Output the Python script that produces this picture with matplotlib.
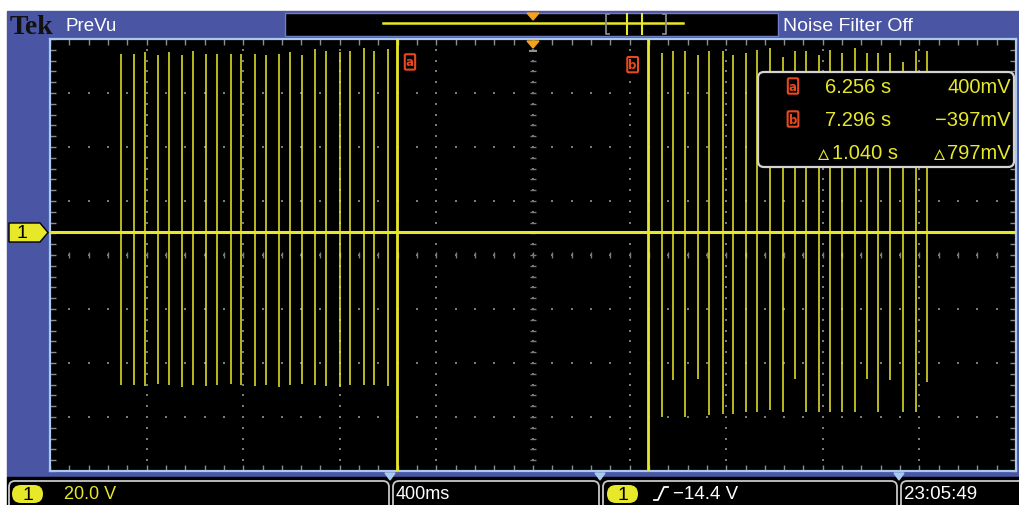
import numpy as np
import matplotlib.pyplot as plt
from matplotlib.patches import Rectangle, FancyBboxPatch, Polygon

# Scope settings
t_start = 4.819          # time at left edge of graticule (s)
sec_per_div = 0.4
volts_per_div = 20.0
ground_div = 0.43        # channel 1 ground marker above screen centre (div)

# Cursor readout
cursor_times = [6.256, 7.296]     # s
cursor_mv = [400, -397]           # mV

# Pulse burst 1 (before cursor a)
burst1_t = [5.112, 5.167, 5.212, 5.267, 5.313, 5.364, 5.410, 5.466, 5.512, 5.568,
            5.611, 5.667, 5.712, 5.767, 5.813, 5.864, 5.918, 5.963, 6.020, 6.062,
            6.120, 6.161, 6.217]
burst1_hi = [65.9, 65.9, 66.6, 65.3, 66.6, 65.6, 66.8, 65.9, 65.9, 65.9, 65.9, 65.9,
             65.6, 65.9, 66.6, 65.3, 67.8, 66.8, 66.6, 66.8, 68.0, 66.8, 67.8]
burst1_lo = [-56.9, -56.9, -57.2, -56.5, -56.9, -57.4, -56.9, -57.2, -56.9, -56.5,
             -56.9, -57.2, -56.9, -57.4, -56.9, -56.5, -56.9, -57.2, -57.4, -56.9,
             -56.9, -56.9, -57.2]

# Pulse burst 2 (after cursor b)
burst2_t = [7.352, 7.400, 7.448, 7.503, 7.549, 7.604, 7.648, 7.701, 7.748, 7.800,
            7.855, 7.904, 7.949, 8.003, 8.049, 8.097, 8.152, 8.201, 8.249, 8.298,
            8.352, 8.405, 8.452]
burst2_hi = [66.2, 66.8, 66.8, 65.6, 66.8, 66.8, 65.6, 66.2, 67.4, 68.0, 64.9, 66.8,
             66.8, 65.6, 67.4, 66.2, 68.0, 66.2, 66.2, 66.2, 63.0, 66.8, 66.8]
burst2_lo = [-68.5, -55.0, -68.5, -54.4, -68.0, -67.4, -67.4, -66.7, -66.7, -66.0,
             -66.7, -54.4, -66.7, -66.7, -66.7, -66.7, -66.7, -54.4, -66.7, -55.0,
             -66.7, -66.7, -55.6]

# Status bar
ch1_scale = "20.0 V"
timebase = "400ms"
trig_level = "−14.4 V"
clock = "23:05:49"

W, H = 1019, 506
BLUE = '#4a55a3'
FRAME = '#a9c9ee'
YEL = '#e8e82a'
ORANGE = '#f4a21c'
CURS = '#e8481e'
GRID = '#7a7a7a'
narrow = ['Liberation Sans', 'DejaVu Sans']

fig = plt.figure(figsize=(W / 100, H / 100), dpi=100)
fig.patch.set_facecolor('white')

# --- background chrome (pixel coordinates)
bg = fig.add_axes([0, 0, 1, 1], zorder=0)
bg.set_xlim(0, W)
bg.set_ylim(H, 0)
bg.axis('off')
bg.add_patch(Rectangle((7, 12), W - 7, 466, color=BLUE))
bg.add_patch(Rectangle((7, 478), W - 7, 28, color='black'))

# header
bg.text(10, 27, "Tek", family='Liberation Serif', weight='bold', fontsize=20,
        color='#111111', va='center')
bg.text(66, 26, "PreVu", family=narrow, fontsize=13.5, color='white', va='center')
bg.add_patch(Rectangle((285, 14), 493, 23, facecolor='black', edgecolor='#6f7cc8', lw=1))
bg.plot([383, 683], [23.5, 23.5], color=YEL, lw=1.8)
bg.add_patch(Polygon([[527, 14], [539, 14], [533, 21]], color=ORANGE))
for xb, d in [(606, 1), (666, -1)]:
    bg.plot([xb + 3 * d, xb, xb, xb + 3 * d], [15, 15, 35, 35], color='#8a8a8a', lw=1.3)
for xv in [627, 642]:
    bg.plot([xv, xv], [15, 35], color=YEL, lw=1.5)
bg.text(783, 26, "Noise Filter Off", family=narrow, fontsize=14, color='white',
        va='center')

# status bar boxes
for x0, x1 in [(9, 389), (393, 599), (603, 897), (901, 1030)]:
    bg.add_patch(FancyBboxPatch((x0, 482), x1 - x0, 30,
                                boxstyle='round,pad=0,rounding_size=6',
                                facecolor='black', edgecolor='#c8c8c8', lw=1.3))
for xn in [390, 600, 899]:
    bg.add_patch(Polygon([[xn - 5, 474], [xn + 5, 474], [xn, 481]], color=FRAME))
for xp in [12, 607]:
    bg.add_patch(FancyBboxPatch((xp, 486), 31, 18,
                                boxstyle='round,pad=0,rounding_size=9',
                                facecolor=YEL, edgecolor='none'))
    bg.text(xp + 15.5, 496, "1", family=narrow, fontsize=14, color='black',
            ha='center', va='center')
bg.text(64, 495, ch1_scale, family=narrow, fontsize=13, color=YEL, va='center')
bg.text(396, 495, timebase, family=narrow, fontsize=13, color='white', va='center')
bg.plot([654, 658, 664, 668], [501, 501, 488, 488], color='white', lw=1.3)
bg.text(673, 495, trig_level, family=narrow, fontsize=13.5, color='white', va='center')
bg.text(904, 495, clock, family=narrow, fontsize=13.5, color='white', va='center')

# --- graticule and trace
ax = fig.add_axes([50 / W, 1 - 472 / H, 966 / W, 432 / H], zorder=1)
ax.set_facecolor('black')
t_end = t_start + 10 * sec_per_div
v_lo = (-4 - ground_div) * volts_per_div
v_hi = (4 - ground_div) * volts_per_div
ax.set_xlim(t_start, t_end)
ax.set_ylim(v_lo, v_hi)
v_mid = -ground_div * volts_per_div
t_mid = t_start + 5 * sec_per_div

major_t = t_start + sec_per_div * np.arange(11)
minor_t = t_start + sec_per_div / 5 * np.arange(51)
major_v = v_lo + volts_per_div * np.arange(9)
minor_v = v_lo + volts_per_div / 5 * np.arange(41)

ax.set_xticks(major_t)
ax.set_xticks(minor_t, minor=True)
ax.set_yticks(major_v)
ax.set_yticks(minor_v, minor=True)
ax.tick_params(which='both', direction='in', length=4, width=1, color='#8c8c8c',
               top=True, right=True, labelbottom=False, labelleft=False)
for s in ax.spines.values():
    s.set_color(FRAME)
    s.set_linewidth(1.6)

# dotted grid lines
for tv in major_t[1:-1]:
    ax.scatter(np.full(len(minor_v), tv), minor_v, s=1.8, marker='s', color=GRID, lw=0)
for vv in major_v[1:-1]:
    ax.scatter(minor_t, np.full(len(minor_t), vv), s=1.8, marker='s', color=GRID, lw=0)
# centre axes with minor ticks
ax.scatter(minor_t, np.full(len(minor_t), v_mid), s=14, marker='|', color='#7a7a7a', lw=1)
ax.scatter(np.full(len(minor_v), t_mid), minor_v, s=14, marker='_', color='#7a7a7a', lw=1)

# baseline and pulse bursts
ax.axhline(0, color=YEL, lw=2.2, zorder=3)
ax.vlines(burst1_t, burst1_lo, burst1_hi, colors=YEL, lw=1.4, alpha=0.8, zorder=3)
ax.vlines(burst2_t, burst2_lo, burst2_hi, colors=YEL, lw=1.4, alpha=0.8, zorder=3)

# cursors a and b
for tc in cursor_times:
    ax.axvline(tc, color=YEL, lw=2, zorder=4)
ax.text(cursor_times[0] + 0.037, v_hi - 8.5, "a", family='DejaVu Sans', fontsize=8.5,
        color=CURS, ha='left', va='center', weight='bold',
        bbox=dict(boxstyle='round,pad=0.1', facecolor='black', edgecolor=CURS, lw=1.5))
ax.text(cursor_times[1] - 0.047, v_hi - 9.5, "b", family='DejaVu Sans', fontsize=8.5,
        color=CURS, ha='right', va='center', weight='bold',
        bbox=dict(boxstyle='round,pad=0.1', facecolor='black', edgecolor=CURS, lw=1.5))

# --- overlay: markers and cursor readout
top = fig.add_axes([0, 0, 1, 1], zorder=2)
top.set_xlim(0, W)
top.set_ylim(H, 0)
top.axis('off')
top.patch.set_alpha(0)

top.add_patch(Polygon([[527, 42], [539, 42], [533, 49]], color=ORANGE))
top.plot([530, 536], [52, 52], color='#909090', lw=1.5)
top.add_patch(Polygon([[9, 224], [40, 224], [48, 233.5], [40, 243], [9, 243]],
                      facecolor=YEL, edgecolor='black', lw=1))
top.text(22, 234, "1", family=narrow, fontsize=14, color='black', ha='center', va='center')

top.add_patch(FancyBboxPatch((758, 73), 256, 95, boxstyle='round,pad=0,rounding_size=6',
                             facecolor='black', edgecolor='#d4d4d4', lw=1.6))
d_t = cursor_times[1] - cursor_times[0]
d_mv = cursor_mv[0] - cursor_mv[1]
rows_y = [87, 120, 153]
for lab, yy, tc, mv in zip(["a", "b"], rows_y, cursor_times, cursor_mv):
    top.text(793, yy, lab, family='DejaVu Sans', fontsize=8.5, color=CURS, ha='center',
             va='center', weight='bold',
             bbox=dict(boxstyle='round,pad=0.1', facecolor='black', edgecolor=CURS, lw=1.5))
    top.text(825, yy, f"{tc:.3f} s", family=narrow, fontsize=14.5, color=YEL, va='center')
    top.text(1011, yy, f"{mv}mV".replace('-', '−'), family=narrow, fontsize=14.5,
             color=YEL, va='center', ha='right')
# delta row: small triangle glyph ahead of each difference
top.text(818, rows_y[2] + 1, "▵", family='DejaVu Sans', fontsize=16, color=YEL,
         va='center')
top.text(832, rows_y[2], f"{d_t:.3f} s", family=narrow, fontsize=14.5, color=YEL,
         va='center')
top.text(1011, rows_y[2], f"{d_mv}mV", family=narrow, fontsize=14.5, color=YEL,
         va='center', ha='right')
top.text(945, rows_y[2] + 1, "▵", family='DejaVu Sans', fontsize=16, color=YEL,
         va='center', ha='right')

fig.savefig('out.png', dpi=100)
